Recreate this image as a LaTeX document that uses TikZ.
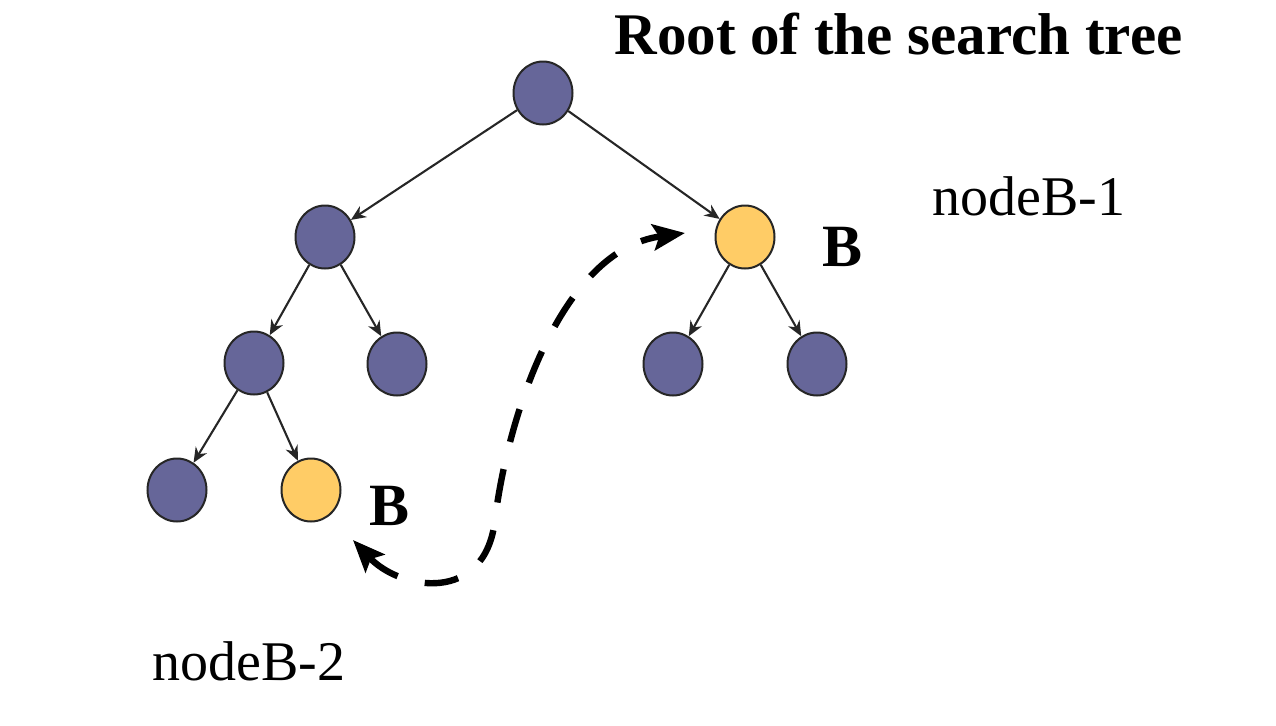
\documentclass[tikz,border=0pt]{standalone}
\usepackage{fontspec}
\setmainfont{Liberation Serif}
\usetikzlibrary{arrows.meta,shapes.geometric}
\definecolor{nodeblue}{RGB}{102,102,153}
\definecolor{nodeyellow}{RGB}{255,204,102}
\tikzset{
  treenode/.style={ellipse,draw=black!85,line width=1pt,fill=nodeblue,minimum width=29.5pt,minimum height=31.5pt,inner sep=0pt},
  bnode/.style={treenode,fill=nodeyellow},
  treeedge/.style={draw=black!85,line width=1.05pt,-{Stealth[length=7.5pt,width=6.5pt]}},
  jump/.style={line width=3.2pt,dash pattern=on 17pt off 14pt,{Stealth[length=16pt,width=13pt,inset=3pt]}-{Stealth[length=16pt,width=13pt,inset=3pt]}},
  lbl/.style={anchor=base west,inner sep=0pt,font=\fontsize{28pt}{34pt}\selectfont},
  blbl/.style={anchor=base west,inner sep=0pt,font=\fontsize{30pt}{36pt}\selectfont\bfseries}
}
\begin{document}
\begin{tikzpicture}[x=0.5pt,y=-0.5pt]
\useasboundingbox (0,0) rectangle (1276,725);
\node[treenode] (root) at (543,93) {};
\node[treenode] (a1) at (325,237) {};
\node[bnode] (b1) at (745,237) {};
\node[treenode] (a2) at (254,363) {};
\node[treenode] (a3) at (397,364) {};
\node[treenode] (b2) at (673,364) {};
\node[treenode] (b3) at (817,364) {};
\node[treenode] (c1) at (177,490) {};
\node[bnode] (c2) at (311,490) {};

\draw[treeedge] (root) -- (a1);
\draw[treeedge] (root) -- (b1);
\draw[treeedge] (a1) -- (a2);
\draw[treeedge] (a1) -- (a3);
\draw[treeedge] (b1) -- (b2);
\draw[treeedge] (b1) -- (b3);
\draw[treeedge] (a2) -- (c1);
\draw[treeedge] (a2) -- (c2);

\node[lbl,font=\fontsize{29.5pt}{35pt}\selectfont\bfseries] (title) at (614,54) {Root of the search tree};
\node[lbl] (nb1) at (932,215) {nodeB-1};
\node[lbl] (nb2) at (152,680) {nodeB-2};
\node[blbl] (bu) at (822,266) {B};
\node[blbl] (bl) at (369,525) {B};

\coordinate (jstart) at (353,540);
\coordinate (jmid) at (495,520);
\coordinate (jend) at (685,233);
\draw[jump] (jstart) .. controls (400,590) and (485,605) .. (jmid)
  .. controls (507,420) and (560,250) .. (jend);
\end{tikzpicture}
\end{document}
